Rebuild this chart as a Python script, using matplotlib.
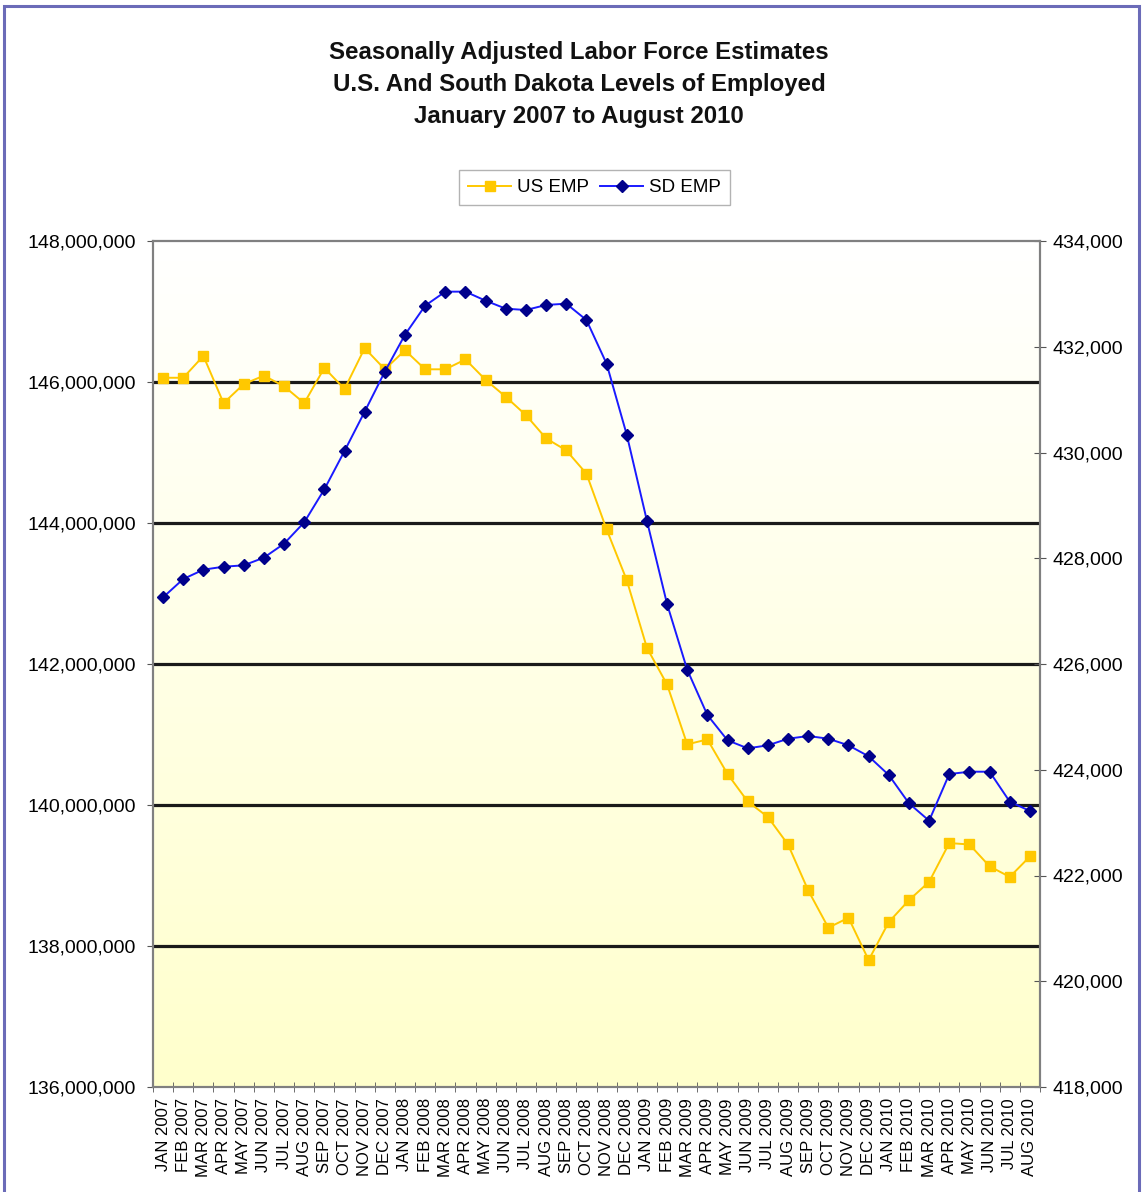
import numpy as np
import matplotlib
matplotlib.use("Agg")
import matplotlib.pyplot as plt
from matplotlib.patches import Rectangle
from matplotlib.ticker import FuncFormatter

plt.rcParams['font.family'] = ['Liberation Sans', 'DejaVu Sans']

months = ["JAN", "FEB", "MAR", "APR", "MAY", "JUN", "JUL", "AUG", "SEP", "OCT", "NOV", "DEC"]
categories = [f"{m} {y}" for y in (2007, 2008, 2009, 2010) for m in months][:44]

us_emp = [146.06, 146.06, 146.37, 145.70, 145.97, 146.09, 145.94, 145.70, 146.20, 145.90,
          146.48, 146.18, 146.45, 146.18, 146.18, 146.32, 146.03, 145.79, 145.53, 145.20,
          145.03, 144.70, 143.91, 143.19, 142.23, 141.71, 140.86, 140.93, 140.44, 140.05,
          139.83, 139.44, 138.79, 138.26, 138.40, 137.80, 138.34, 138.65, 138.91, 139.46,
          139.44, 139.13, 138.98, 139.27]
us_emp = [v * 1e6 for v in us_emp]

sd_emp = [427261, 427607, 427784, 427840, 427866, 428011, 428275, 428679, 429304, 430028,
          430772, 431529, 432228, 432777, 433042, 433042, 432871, 432720, 432695, 432790,
          432815, 432506, 431680, 430337, 428710, 427135, 425892, 425035, 424557, 424405,
          424462, 424587, 424638, 424587, 424462, 424254, 423900, 423365, 423036, 423919,
          423963, 423963, 423396, 423220]

left_ticks = [136e6, 138e6, 140e6, 142e6, 144e6, 146e6, 148e6]
right_ticks = [418000, 420000, 422000, 424000, 426000, 428000, 430000, 432000, 434000]

title_lines = ["Seasonally Adjusted Labor Force Estimates",
               "U.S. And South Dakota Levels of Employed",
               "January 2007 to August 2010"]

W, H = 1142, 1192
fig = plt.figure(figsize=(W / 100, H / 100), dpi=100)
fig.patch.set_facecolor('white')

L, R, T, B = 153, 1040, 241, 1087
ax = fig.add_axes([L / W, 1 - B / H, (R - L) / W, (B - T) / H])
ax.set_facecolor('white')

# gradient background
grad = np.linspace(0, 1, 256).reshape(-1, 1)
top_c = np.array([1.0, 1.0, 1.0])
bot_c = np.array([1.0, 1.0, 0.80])
img = top_c[None, None, :] * (1 - grad[:, :, None]) + bot_c[None, None, :] * grad[:, :, None]
ax.imshow(img, extent=[0, 1, 0, 1], transform=ax.transAxes, aspect='auto', zorder=0)

x = np.arange(len(categories))
ax.set_xlim(-0.5, len(categories) - 0.5)
ax.set_ylim(left_ticks[0], left_ticks[-1])

for yv in left_ticks[1:-1]:
    ax.axhline(yv, color='#1a1a1a', lw=2.3, zorder=1)

ln_us, = ax.plot(x, us_emp, color='#FFC800', lw=1.4, marker='s', ms=7.5,
                 mfc='#FFC800', mec='#FFC800', zorder=3)

ax2 = ax.twinx()
ax2.set_ylim(right_ticks[0], right_ticks[-1])
ln_sd, = ax2.plot(x, sd_emp, color='#1A1AFF', lw=1.4, marker='D', ms=6.5,
                  mfc='#00008B', mec='#00008B', zorder=3)

ax.set_yticks(left_ticks)
ax.yaxis.set_major_formatter(FuncFormatter(lambda v, p: f"{int(round(v)):,}"))
ax2.set_yticks(right_ticks)
ax2.yaxis.set_major_formatter(FuncFormatter(lambda v, p: f"{int(round(v)):,}"))

ax.set_xticks(x)
ax.set_xticklabels(categories, rotation=90, fontsize=12)
ax.set_xticks(np.arange(-0.5, len(categories)), minor=True)
ax.tick_params(axis='x', which='major', length=0, pad=8)
ax.tick_params(axis='x', which='minor', length=7, direction='inout', color='#555555')
ax.tick_params(axis='y', labelsize=14, length=4, color='#555555', pad=8)
ax2.tick_params(axis='y', labelsize=14, length=8, direction='inout', color='#555555', pad=5)

for a in (ax, ax2):
    for s in a.spines.values():
        s.set_color('#808080')
        s.set_linewidth(1.5)
ax.spines['top'].set_color('#444444')

# title
for line, yy in zip(title_lines, [52, 85, 117]):
    fig.text(579 / W, 1 - yy / H, line, ha='center', va='center', fontsize=17.3,
             fontweight='bold', color='#111111')

# legend
fig.legend([ln_us, ln_sd], ["US EMP", "SD EMP"], loc='center',
           bbox_to_anchor=(594.5 / W, 1 - 187.5 / H), ncol=2, frameon=True,
           fancybox=False, edgecolor='#A0A0A0', fontsize=13.5, handlelength=2.3,
           handletextpad=0.3, columnspacing=0.6, borderpad=0.5)

# outer border
fig.patches.append(Rectangle((4 / W, -0.02), (1139 - 4) / W, 1.02 - 6 / H,
                             transform=fig.transFigure, fill=False,
                             edgecolor='#6B6BB8', lw=2.2, zorder=10))

fig.savefig('out.png', dpi=100)
